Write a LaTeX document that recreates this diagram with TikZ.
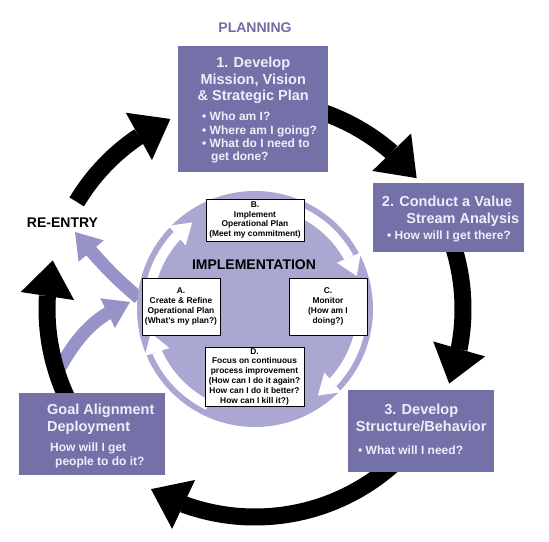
\documentclass[tikz,border=0pt]{standalone}
\usepackage{fontspec}
\setmainfont{Liberation Sans}
\usetikzlibrary{positioning,arrows.meta,bending}
\definecolor{boxfill}{RGB}{116,112,168}
\definecolor{boxtext}{RGB}{238,238,250}
\definecolor{circfill}{RGB}{170,168,210}
\definecolor{reentryc}{RGB}{150,147,200}
\definecolor{planc}{RGB}{112,108,164}
\tikzset{
    planbox/.style={rectangle, fill=boxfill, inner sep=0pt, anchor=north west},
    steptitle/.style={font=\bfseries\fontsize{14.5}{16.5}\selectfont, text=boxtext, inner sep=0pt},
    stepnote/.style={font=\bfseries\fontsize{12}{13.3}\selectfont, text=boxtext, inner sep=0pt, align=left},
    implbox/.style={rectangle, draw=black, line width=0.8pt, fill=white, inner sep=0pt,
        align=center, font=\bfseries\fontsize{8.4}{9.8}\selectfont},
    biglabel/.style={font=\bfseries\fontsize{14}{16}\selectfont, inner sep=0pt},
    cyclearrow/.style={draw=black, line width=17pt, -{Triangle[width=54pt,length=36pt,line width=0pt]}},
    ringarrow/.style={draw=white, line width=10pt, -{Triangle[width=26pt,length=20pt,line width=0pt]}},
    reentryarrow/.style={draw=reentryc, line width=13pt, -{Triangle[width=33pt,length=25pt,line width=0pt]}}
}
\begin{document}
\begin{tikzpicture}[x=1pt, y=1pt]
    \useasboundingbox (0,0) rectangle (549,541);
    \coordinate (ctr) at (255,232);

    % re-entry arrows
    \coordinate (ra0) at (139,243);
    \coordinate (ra1) at (75,309);
    \coordinate (rb0) at (58,170);
    \coordinate (rb1) at (130,239);
    \draw[reentryarrow] (ra0) to[out=140, in=-50] (ra1);
    \draw[reentryarrow] (rb0) to[out=61, in=202] (rb1);

    % implementation circle
    \node[circle, fill=circfill, minimum size=236pt, inner sep=0pt] (impc) at (ctr) {};
    \draw[ringarrow] ([shift={(168:107)}]ctr) arc[start angle=168, end angle=126, radius=107];
    \draw[ringarrow] ([shift={(66:107)}]ctr) arc[start angle=66, end angle=18, radius=107];
    \draw[ringarrow] ([shift={(-10:107)}]ctr) arc[start angle=-10, end angle=-54, radius=107];
    \draw[ringarrow] ([shift={(-116:107)}]ctr) arc[start angle=-116, end angle=-167, radius=107];

    \node[implbox, minimum width=98pt, minimum height=42pt] (opb) at (255,321) {B.\\Implement\\Operational Plan\\(Meet my commitment)};
    \node[implbox, minimum width=78pt, minimum height=57pt] (opa) at (181,234.5) {A.\\Create \& Refine\\Operational Plan\\(What's my plan?)};
    \node[implbox, minimum width=78pt, minimum height=57pt] (opc) at (328,234.5) {C.\\Monitor\\(How am I\\doing?)};
    \node[implbox, minimum width=99pt, minimum height=59pt] (opd) at (254.5,164.5) {D.\\Focus on continuous\\process improvement\\(How can I do it again?\\How can I do it better?\\How can I kill it?)};
    \node[biglabel] (impl) at (254,276) {IMPLEMENTATION};

    % planning cycle
    \draw[cyclearrow] ([shift={(149:208)}]ctr) arc[start angle=149, end angle=114, radius=208];
    \draw[cyclearrow] ([shift={(75:208)}]ctr) arc[start angle=75, end angle=39, radius=208];
    \draw[cyclearrow] ([shift={(20:208)}]ctr) arc[start angle=20, end angle=-21, radius=208];
    \draw[cyclearrow] ([shift={(-48:208)}]ctr) arc[start angle=-48, end angle=-120, radius=208];
    \draw[cyclearrow] ([shift={(-150:208)}]ctr) arc[start angle=-150, end angle=-193.5, radius=208];

    \node[planbox, minimum width=150pt, minimum height=126pt] (dev) at (178,495) {};
    \node[steptitle, align=center, below=11pt of dev.north] (devt) {1. Develop\\Mission, Vision\\\& Strategic Plan};
    \node[stepnote, below right=66pt and 24pt of dev.north west] (devq) {• Who am I?\\• Where am I going?\\• What do I need to\\\hspace*{9pt}get done?};

    \node[planbox, minimum width=151pt, minimum height=69pt] (cva) at (373,358) {};
    \node[steptitle, align=right, below left=13pt and 5pt of cva.north east] (cvat) {2. Conduct a Value\hspace*{7pt}\\Stream Analysis};
    \node[stepnote, below right=48pt and 14pt of cva.north west] (cvaq) {• How will I get there?};

    \node[planbox, minimum width=146pt, minimum height=82pt] (dsb) at (348,151) {};
    \node[steptitle, align=center, below=14pt of dsb.north] (dsbt) {3. Develop\\Structure/Behavior};
    \node[stepnote, below right=56pt and 10pt of dsb.north west] (dsbq) {• What will I need?};

    \node[planbox, minimum width=146pt, minimum height=82pt] (gad) at (19,148) {};
    \node[steptitle, align=left, below right=11pt and 28pt of gad.north west] (gadt) {Goal Alignment\\Deployment};
    \node[stepnote, below right=50pt and 31pt of gad.north west] (gadq) {How will I get\\\hspace*{5pt}people to do it?};

    \node[biglabel, text=planc] (plan) at (255,513) {PLANNING};
    \node[biglabel] (reent) at (62.5,318) {RE-ENTRY};
\end{tikzpicture}
\end{document}
